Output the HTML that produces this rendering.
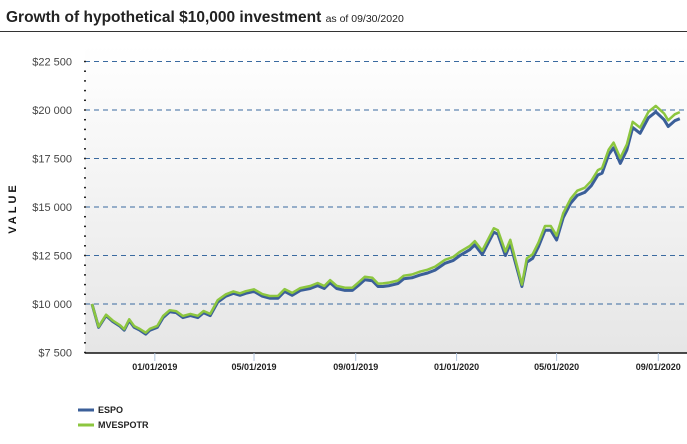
<!DOCTYPE html>
<html><head><meta charset="utf-8"><style>
body{margin:0;background:#fff;font-family:"Liberation Sans",sans-serif;}
</style></head><body>
<svg width="687" height="439" xmlns="http://www.w3.org/2000/svg">
<defs><linearGradient id="bg" x1="0" y1="0" x2="0" y2="1"><stop offset="0" stop-color="#ffffff"/><stop offset="1" stop-color="#e6e6e6"/></linearGradient></defs>
<text x="6" y="22" font-size="15.5" font-weight="bold" fill="#222">Growth of hypothetical $10,000 investment <tspan font-size="10.5" font-weight="normal">as of 09/30/2020</tspan></text>
<line x1="0" y1="31.5" x2="687" y2="31.5" stroke="#333" stroke-width="1"/>
<rect x="85" y="45" width="602" height="308" fill="url(#bg)"/>
<g id="grid"></g><g id="yl"></g><g id="xl"></g><g id="lines"></g>
<text transform="translate(16,208) rotate(-90)" text-anchor="middle" font-size="11" font-weight="bold" letter-spacing="3" fill="#111">VALUE</text>
<line x1="78" y1="410" x2="94" y2="410" stroke="#3b5f99" stroke-width="3"/>
<text x="98" y="413" font-size="9" font-weight="bold" fill="#222">ESPO</text>
<line x1="78" y1="425" x2="94" y2="425" stroke="#8cc63f" stroke-width="3"/>
<text x="98" y="428" font-size="9" font-weight="bold" fill="#222">MVESPOTR</text>
</svg>
<script>
const days=[0,8,17,25,34,39,45,51,58,65,70,79,86,94,102,110,119,128,135,143,152,162,171,179,186,196,206,215,225,233,242,252,264,273,281,288,296,306,315,322,330,339,346,352,360,370,377,387,397,406,415,427,437,445,457,463,472,486,491,500,506,520,526,533,540,548,555,562,570,579,587,596,604,612,617,625,631,639,647,654,663,673,682,692,697,705,711];
const espo=[10.0,8.8,9.4,9.1,8.85,8.65,9.15,8.8,8.65,8.45,8.65,8.8,9.3,9.6,9.55,9.3,9.4,9.3,9.55,9.4,10.1,10.4,10.55,10.45,10.55,10.65,10.4,10.3,10.3,10.65,10.45,10.7,10.8,10.95,10.8,11.1,10.8,10.7,10.7,10.95,11.25,11.2,10.9,10.9,10.95,11.05,11.3,11.35,11.5,11.6,11.75,12.1,12.25,12.5,12.8,13.05,12.55,13.7,13.6,12.5,13.1,10.9,12.15,12.35,12.95,13.8,13.8,13.3,14.45,15.2,15.6,15.75,16.1,16.65,16.75,17.7,18.05,17.25,17.95,19.1,18.8,19.6,19.9,19.5,19.15,19.45,19.55];
const gap=[0,0.03,0.05,0.05,0.05,0.05,0.06,0.06,0.06,0.07,0.07,0.07,0.08,0.08,0.08,0.08,0.09,0.09,0.09,0.09,0.1,0.1,0.1,0.1,0.11,0.11,0.11,0.11,0.12,0.12,0.12,0.12,0.13,0.13,0.13,0.13,0.14,0.14,0.14,0.15,0.15,0.15,0.15,0.16,0.16,0.16,0.16,0.17,0.17,0.17,0.18,0.18,0.18,0.19,0.19,0.19,0.2,0.2,0.2,0.2,0.21,0.1,0.2,0.21,0.21,0.22,0.22,0.22,0.23,0.23,0.24,0.24,0.25,0.25,0.26,0.26,0.27,0.27,0.28,0.29,0.29,0.3,0.31,0.32,0.32,0.33,0.34];
const mves=espo.map((v,i)=>v+gap[i]);
const yTicks=[7.5,10,12.5,15,17.5,20,22.5];
const yTickLabels=["$7 500","$10 000","$12 500","$15 000","$17 500","$20 000","$22 500"];
const xTicks=[76,196,319,441,562,685];
const xTickLabels=["01/01/2019","05/01/2019","09/01/2019","01/01/2020","05/01/2020","09/01/2020"];
const NS="http://www.w3.org/2000/svg";
const X=d=>92+d*0.8267, Y=v=>304-(v-10)*19.4;
function mk(p,t,a){const e=document.createElementNS(NS,t);for(const k in a)e.setAttribute(k,a[k]);document.getElementById(p).appendChild(e);return e;}
yTicks.forEach((v,i)=>{
 if(v>7.5){const g=mk('grid','line',{x1:85,x2:687,y1:Y(v),y2:Y(v),stroke:'#3a6aa0','stroke-dasharray':'5,4','stroke-width':1});
 
 }
 const t=mk('yl','text',{x:72,y:Y(v)+4,'text-anchor':'end','font-size':11,fill:'#444'});t.textContent=yTickLabels[i];
 
 
});
for(let v=7.5;v<=22.5;v+=0.5){const d=mk('grid','line',{x1:84,x2:86,y1:Y(v),y2:Y(v),stroke:'#222','stroke-width':1.5});
 
 }
const ax=mk('grid','line',{x1:85,x2:687,y1:353,y2:353,stroke:'#111','stroke-width':1.5});


xTicks.forEach((d,i)=>{
 const l=mk('xl','line',{x1:X(d),x2:X(d),y1:353,y2:361,stroke:'#b0c4de'});
 
 
 const t=mk('xl','text',{x:X(d),y:370,'text-anchor':'middle','font-size':9,'font-weight':'bold',fill:'#222'});t.textContent=xTickLabels[i];
 
 
});
const pts=a=>a.map((v,i)=>X(days[i]).toFixed(1)+','+Y(v).toFixed(1)).join(' ');
const l1=mk('lines','polyline',{points:pts(espo),fill:'none',stroke:'#3b5f99','stroke-width':3,'stroke-linejoin':'round'});


const l2=mk('lines','polyline',{points:pts(mves),fill:'none',stroke:'#8cc63f','stroke-width':2.5,'stroke-linejoin':'round'});


</script>
</body></html>
